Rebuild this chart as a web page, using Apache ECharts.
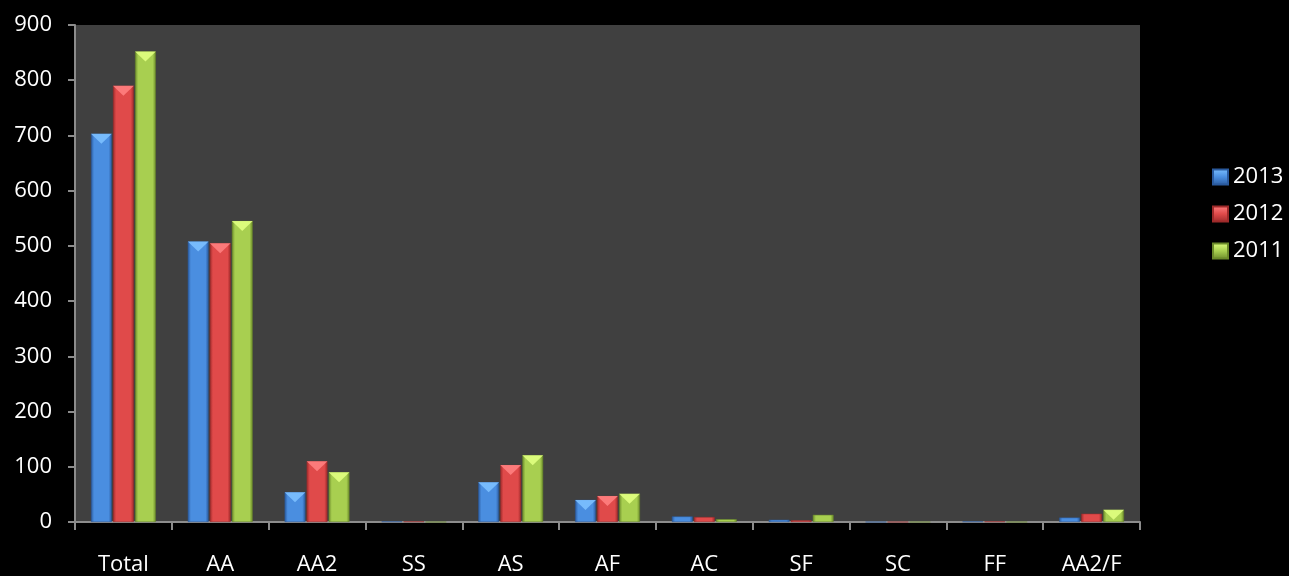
<!DOCTYPE html>
<html><head><meta charset="utf-8">
<script src="https://cdn.jsdelivr.net/npm/echarts@6/dist/echarts.min.js"></script>
<style>html,body{margin:0;padding:0;background:#000;}#c{width:1289px;height:576px;}</style>
</head><body><div id="c"></div>
<script>
const categories = ['Total','AA','AA2','SS','AS','AF','AC','SF','SC','FF','AA2/F'];
const seriesNames = ['2013','2012','2011'];
const v2013 = [703, 508, 54, 1, 72, 40, 10, 4, 0, 1, 8];
const v2012 = [790, 505, 110, 1, 103, 47, 9, 3, 0, 1, 15];
const v2011 = [852, 545, 90, 0, 121, 51, 5, 13, 0, 0, 22];
const yTicks = {min: 0, max: 900, interval: 100};

const palettes = [
  {edge:'#2a5a9e', mid:'#4a8ee0', hi:'#7cc0ff'},
  {edge:'#9e2a2a', mid:'#e04a4a', hi:'#ff8080'},
  {edge:'#6b8a2a', mid:'#a8cf50', hi:'#e0ff80'}
];
const values = [v2013, v2012, v2011];
const font = '"Open Sans", Lato, sans-serif';
const barCatGap = '33%', barGap = '6%';

const series = [];
values.forEach((vals, i) => {
  const p = palettes[i];
  series.push({
    name: seriesNames[i], type: 'bar', data: vals,
    barGap: barGap, barCategoryGap: barCatGap, z: 2,
    itemStyle: {
      color: new echarts.graphic.LinearGradient(0,0,1,0,[
        {offset:0,color:p.edge},{offset:0.15,color:p.mid},{offset:0.85,color:p.mid},{offset:1,color:p.edge}
      ]),
      borderColor: p.edge, borderWidth: 0.5
    }
  });
});
values.forEach((vals, i) => {
  const p = palettes[i];
  series.push({
    name: seriesNames[i], type: 'pictorialBar', z: 3,
    barGap: barGap, barCategoryGap: barCatGap,
    symbol: 'path://M0,0 L10,0 L5,4 Z',
    symbolPosition: 'end', symbolSize: ['100%', 10], symbolOffset: [0, 0],
    itemStyle: {color: p.hi, opacity: 0.9},
    silent: true,
    data: vals.map(v => v >= 20 ? v : '-')
  });
});

const chart = echarts.init(document.getElementById('c'));
chart.setOption({
  backgroundColor: '#000',
  animation: false,
  textStyle: {fontFamily: font},
  grid: {left: 75, right: 149, top: 25, bottom: 54, show: true, backgroundColor: '#404040', borderWidth: 0},
  legend: {
    data: seriesNames.map((n,i)=>({name:n, itemStyle:{color:new echarts.graphic.LinearGradient(0,0,0,1,[{offset:0,color:palettes[i].hi},{offset:0.5,color:palettes[i].mid},{offset:1,color:palettes[i].edge}])}})),
    orient: 'vertical', left: 1207, top: 161,
    itemWidth: 15, itemHeight: 15, itemGap: 15,
    icon: 'rect',
    textStyle: {color: '#fff', fontSize: 22, fontFamily: font}
  },
  xAxis: {
    type: 'category', data: categories,
    axisLine: {lineStyle: {color: '#8c8c8c', width: 2}},
    axisTick: {show: true, length: 8, lineStyle: {color: '#8c8c8c', width: 2}},
    axisLabel: {color: '#fff', fontSize: 22, margin: 32, fontFamily: font, interval: 0}
  },
  yAxis: {
    type: 'value', min: yTicks.min, max: yTicks.max, interval: yTicks.interval,
    axisLine: {show: true, lineStyle: {color: '#8c8c8c', width: 2}},
    axisTick: {show: true, length: 7, lineStyle: {color: '#8c8c8c', width: 2}},
    axisLabel: {color: '#fff', fontSize: 22, margin: 23, fontFamily: font},
    splitLine: {show: false}
  },
  series: series
});
</script></body></html>
